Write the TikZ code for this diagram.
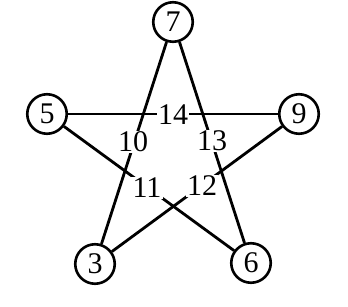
\documentclass[tikz,border=0pt]{standalone}
\usepackage{fontspec}
\setmainfont{Liberation Serif}
\begin{document}
\begin{tikzpicture}[x=1pt,y=-1pt,
  vert/.style={circle,draw,line width=2.6pt,minimum size=39.5pt,inner sep=0pt,font=\fontsize{30}{32}\selectfont},
  lab/.style={fill=white,inner sep=1.2pt,font=\fontsize{30}{32}\selectfont},
  edge/.style={line width=2.8pt}]
\useasboundingbox (0,0) rectangle (348,307);
\fill[white] (0,0) rectangle (348,307);
\node[vert] (n7) at (173,22) {7};
\node[vert] (n5) at (47,114) {5};
\node[vert] (n9) at (299,114) {9};
\node[vert] (n3) at (95,264) {3};
\node[vert] (n6) at (251,263) {6};
\draw[edge] (n5) -- (n9);
\draw[edge] (n7) -- (n3);
\draw[edge] (n7) -- (n6);
\draw[edge] (n5) -- (n6);
\draw[edge] (n9) -- (n3);
\node[lab] (l14) at (173,115) {14};
\node[lab] (l10) at (133,142) {10};
\node[lab] (l13) at (212,141) {13};
\node[lab] (l11) at (147,188) {11};
\node[lab] (l12) at (202,186) {12};
\end{tikzpicture}
\end{document}
